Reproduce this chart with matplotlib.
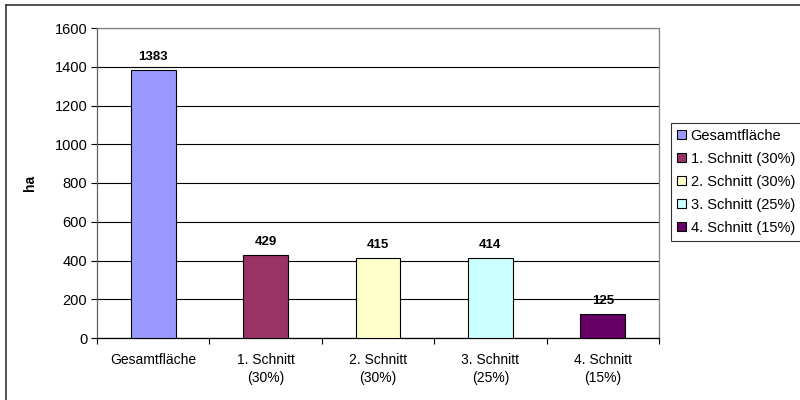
import matplotlib
matplotlib.use("Agg")
import matplotlib.pyplot as plt
from matplotlib.lines import Line2D
import numpy as np

# ----------------------------------------------------------------------
# Data
# ----------------------------------------------------------------------
categories = ["Gesamtfläche", "1. Schnitt\n(30%)", "2. Schnitt\n(30%)",
              "3. Schnitt\n(25%)", "4. Schnitt\n(15%)"]
legend_labels = ["Gesamtfläche", "1. Schnitt (30%)", "2. Schnitt (30%)",
                 "3. Schnitt (25%)", "4. Schnitt (15%)"]
values = [1383, 429, 415, 414, 125]
colors = ["#9999FF", "#993366", "#FFFFCC", "#CCFFFF", "#660066"]
y_ticks = [0, 200, 400, 600, 800, 1000, 1200, 1400, 1600]

plt.rcParams['font.family'] = ['Liberation Sans', 'DejaVu Sans']

fig = plt.figure(figsize=(8, 4), dpi=100)
ax = fig.add_axes([97 / 800, 62 / 400, 562 / 800, 310 / 400])

x = np.arange(len(values))
for i, (v, c, lab) in enumerate(zip(values, colors, legend_labels)):
    ax.bar(x[i], v, width=0.4, color=c, edgecolor="black",
           linewidth=0.8, label=lab, zorder=3)
    ax.annotate(str(v), (x[i], v), xytext=(0, 5), textcoords="offset points",
                ha="center", va="bottom", fontsize=9.5, fontweight="bold")

ax.set_xlim(-0.5, len(values) - 0.5)
ax.set_ylim(0, 1600)
ax.set_yticks(y_ticks)
ax.tick_params(axis="y", labelsize=10.5, length=4, width=0.8, direction="out",
               pad=3)
ax.set_xticks(x)
ax.set_xticklabels(categories, fontsize=10, linespacing=1.3)
ax.tick_params(axis="x", length=0, pad=11)
ax.set_xticks(np.arange(-0.5, len(values), 1), minor=True)
ax.tick_params(axis="x", which="minor", length=4, width=0.8, direction="out")

ax.grid(axis="y", color="black", linewidth=0.8, zorder=0)
ax.spines["top"].set_color("#808080")
ax.spines["right"].set_color("#808080")
ax.spines["left"].set_color("#606060")
ax.spines["bottom"].set_color("black")
for s in ax.spines.values():
    s.set_linewidth(0.9)

fig.text(30 / 800, 1 - 183 / 400, "ha", rotation=90, fontsize=10,
         fontweight="bold", ha="center", va="center")

leg = ax.legend(loc="upper left", bbox_to_anchor=(671 / 800, 1 - 123 / 400),
                bbox_transform=fig.transFigure, fontsize=10.5, frameon=True,
                fancybox=False, edgecolor="black", handlelength=0.6,
                handleheight=0.6, handletextpad=0.35, labelspacing=0.62,
                borderpad=0.4, borderaxespad=0)
leg.get_frame().set_linewidth(0.8)

# outer chart border (right/bottom run off the image)
fig.add_artist(Line2D([6 / 800, 6 / 800], [0, 1 - 5 / 400], color="#333333",
                      linewidth=1.2, transform=fig.transFigure))
fig.add_artist(Line2D([6 / 800, 1], [1 - 5 / 400, 1 - 5 / 400],
                      color="#333333", linewidth=1.2,
                      transform=fig.transFigure))

fig.savefig("out.png", dpi=100)
